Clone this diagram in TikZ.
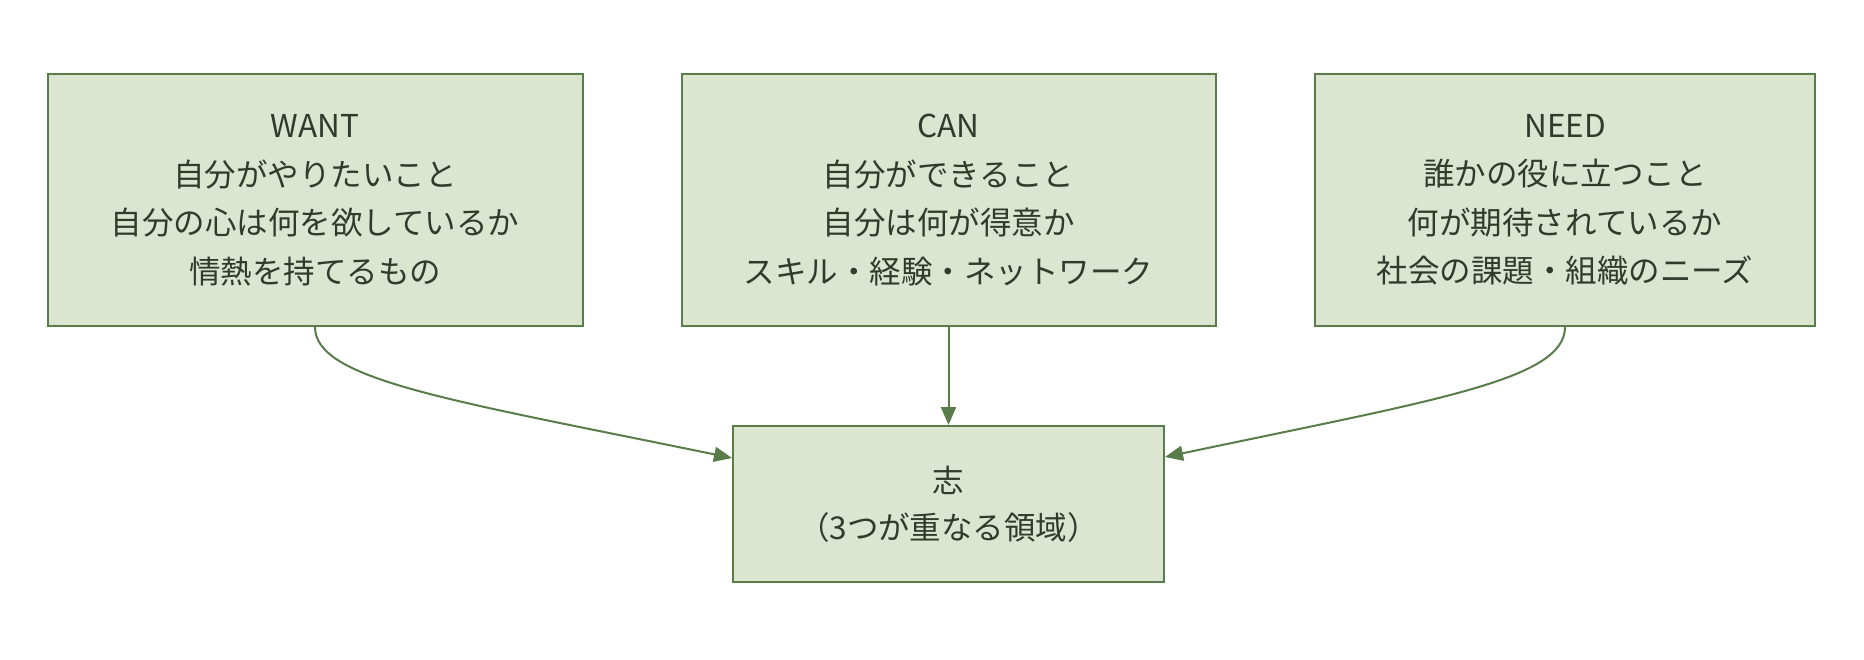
\documentclass[tikz,border=0pt]{standalone}
\usepackage{fontspec}
\setmainfont{Noto Sans CJK JP}
\usetikzlibrary{calc,arrows.meta}
\definecolor{boxfill}{RGB}{220,229,207}
\definecolor{boxline}{RGB}{88,124,74}
\definecolor{txt}{RGB}{50,58,44}
\tikzset{
  card/.style={draw=boxline, fill=boxfill, line width=2pt, rectangle, align=center,
    text=txt, font=\fontsize{31.5}{48.5}\selectfont, inner sep=0pt},
  link/.style={draw=boxline, line width=2pt, -{Triangle[length=18pt,width=15pt]}}
}
\begin{document}
\begin{tikzpicture}[x=1pt,y=-1pt]
\useasboundingbox (0,0) rectangle (1864,660);
\node[card, minimum width=535pt, minimum height=252pt] (want) at (315,200)
  {WANT\\自分がやりたいこと\\自分の心は何を欲しているか\\情熱を持てるもの};
\node[card, minimum width=534pt, minimum height=252pt] (can) at (948.5,200)
  {CAN\\自分ができること\\自分は何が得意か\\スキル・経験・ネットワーク};
\node[card, minimum width=500pt, minimum height=252pt] (need) at (1565,200)
  {NEED\\誰かの役に立つこと\\何が期待されているか\\社会の課題・組織のニーズ};
\node[card, minimum width=431pt, minimum height=156pt, font=\fontsize{31.5}{46.7}\selectfont] (goal) at (948.5,504)
  {志\\（3つが重なる領域）};
\draw[link] (can.south) -- (goal.north);
\draw[link] (want.south) .. controls (315,380) and (450,400) .. ($(goal.west)+(0,-46)$);
\draw[link] (need.south) .. controls (1565,380) and (1435,400) .. ($(goal.east)+(0,-47)$);
\end{tikzpicture}
\end{document}
